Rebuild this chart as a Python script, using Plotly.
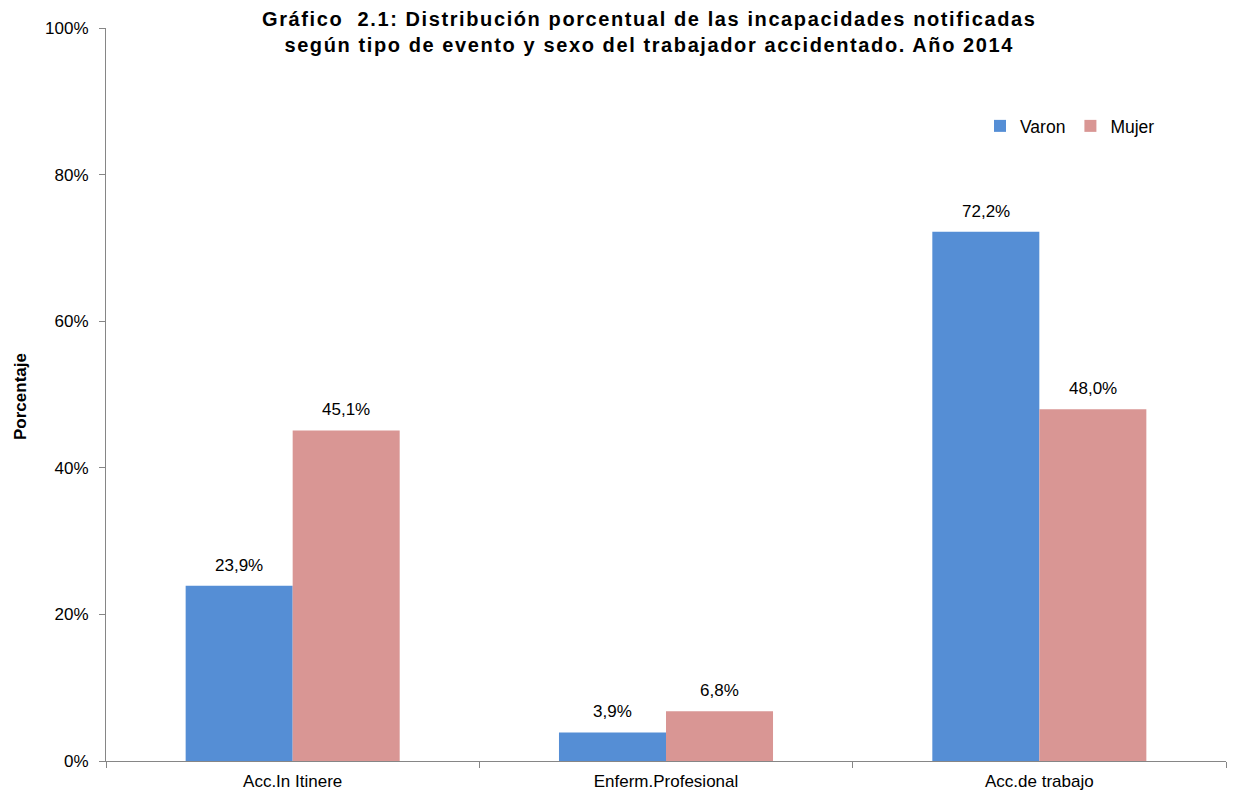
import plotly.graph_objects as go

categories = ["Acc.In Itinere", "Enferm.Profesional", "Acc.de trabajo"]
varon = [23.9, 3.9, 72.2]
mujer = [45.1, 6.8, 48.0]
varon_labels = ["23,9%", "3,9%", "72,2%"]
mujer_labels = ["45,1%", "6,8%", "48,0%"]
y_ticks = [0, 20, 40, 60, 80, 100]
y_tick_labels = ["0%", "20%", "40%", "60%", "80%", "100%"]

FONT = "Liberation Sans, Arial, sans-serif"
BLUE = "#558ED5"
PINK = "#D99694"
BAR_PX = 107
L, R, T, B = 106, 9, 28, 32
PW, PH = 1235 - L - R, 793 - T - B

fig = go.Figure()
fig.add_trace(go.Bar(name="Varon", x=categories, y=varon, marker_color=BLUE,
                     marker_line_width=0))
fig.add_trace(go.Bar(name="Mujer", x=categories, y=mujer, marker_color=PINK,
                     marker_line_width=0))

annotations = []
for cat, v, lab in zip(categories, varon, varon_labels):
    annotations.append(dict(x=cat, y=v, xref="x", yref="y", text=lab, showarrow=False,
                            xshift=-BAR_PX / 2, yshift=9, yanchor="bottom",
                            font=dict(size=17, family=FONT, color="#000")))
for cat, v, lab in zip(categories, mujer, mujer_labels):
    annotations.append(dict(x=cat, y=v, xref="x", yref="y", text=lab, showarrow=False,
                            xshift=BAR_PX / 2, yshift=9, yanchor="bottom",
                            font=dict(size=17, family=FONT, color="#000")))
annotations.append(dict(
    text="<b>Gráfico  2.1: Distribución porcentual de las incapacidades notificadas<br>según tipo de evento y sexo del trabajador accidentado. Año 2014</b>",
    xref="paper", yref="paper", x=(648.5 - L) / PW, y=(761 - 6) / PH,
    xanchor="center", yanchor="top", name="charttitle",
    showarrow=False, font=dict(size=20, family=FONT, color="#000"), align="center"))
annotations.append(dict(
    text="<b>Porcentaje</b>", xref="paper", yref="paper",
    x=(20 - L) / PW, y=(761 - 397) / PH, xanchor="center", yanchor="middle",
    textangle=-90, showarrow=False, font=dict(size=17, family=FONT, color="#000")))

fig.update_layout(
    width=1235, height=793,
    margin=dict(l=L, r=R, t=T, b=B, autoexpand=False),
    paper_bgcolor="white", plot_bgcolor="white",
    font=dict(family=FONT, size=17, color="#000000"),
    barmode="group", bargap=0.4267, bargroupgap=0,
    showlegend=True,
    legend=dict(orientation="h", x=(980 - L) / PW, y=(761 - 126) / PH,
                xanchor="left", yanchor="middle",
                font=dict(size=17.5), itemwidth=30, traceorder="normal",
                bgcolor="rgba(0,0,0,0)"),
    xaxis=dict(showline=True, linecolor="#868686", linewidth=1, ticks="outside",
               tickson="boundaries", ticklen=6, tickcolor="#868686", showgrid=False,
               tickfont=dict(size=17), ticklabelstandoff=5, automargin=False),
    yaxis=dict(range=[0, 100], tickvals=y_ticks, ticktext=y_tick_labels, showline=True,
               linecolor="#868686", linewidth=1, ticks="outside", ticklen=6,
               tickcolor="#868686", showgrid=False, zeroline=False,
               tickfont=dict(size=17), ticklabelstandoff=7, automargin=False),
    annotations=annotations,
)

post = """
document.body.style.margin='0';
(function(){
  var ts = document.querySelectorAll('.annotation-text');
  ts.forEach(function(t){ if (t.textContent.indexOf('Gráfico') >= 0) { t.style.letterSpacing = '1.6px'; } });
})();
"""
fig.write_html("out.html", post_script=post, config={"displayModeBar": False})
